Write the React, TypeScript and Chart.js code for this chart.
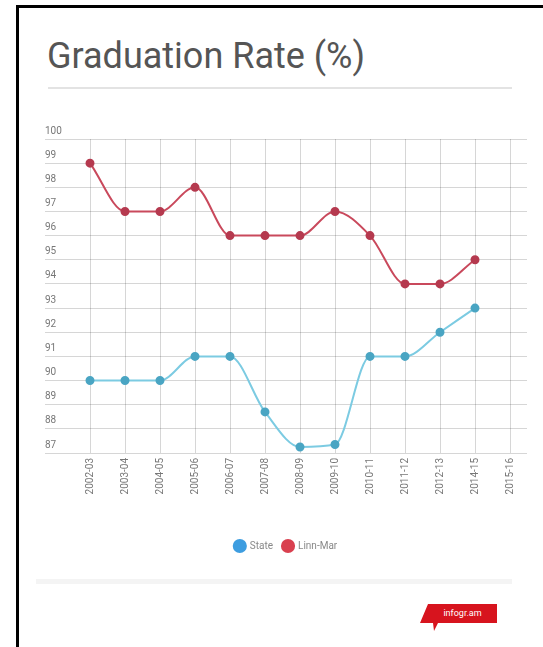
import React, { useEffect, useRef } from "react";
import { Chart, registerables } from "chart.js";

Chart.register(...registerables);

const categories = [
  "2002-03", "2003-04", "2004-05", "2005-06", "2006-07", "2007-08", "2008-09",
  "2009-10", "2010-11", "2011-12", "2012-13", "2014-15", "2015-16",
];
const stateValues = [90, 90, 90, 91, 91, 88.7, 87.25, 87.35, 91, 91, 92, 93];
const linnMarValues = [99, 97, 97, 98, 96, 96, 96, 97, 96, 94, 94, 95];
const seriesNames = ["State", "Linn-Mar"];
const yMin = 87;
const yMax = 100;
const yStep = 1;

const FONT = "Roboto, 'Noto Sans', sans-serif";
const GRID = "rgba(0,0,0,0.16)";

export default function App() {
  const ref = useRef<HTMLCanvasElement | null>(null);

  useEffect(() => {
    if (!ref.current) return;
    const legendColors = ["#3d9de0", "#d9404f"];
    const chart = new Chart(ref.current, {
      type: "line",
      data: {
        labels: categories,
        datasets: [
          {
            label: seriesNames[0],
            data: stateValues,
            borderColor: "#7ccbe2",
            backgroundColor: "#7ccbe2",
            pointBackgroundColor: "#4aa5c3",
            pointBorderColor: "#4aa5c3",
            pointRadius: 3.5,
            borderWidth: 2,
            cubicInterpolationMode: "monotone",
            fill: false,
          },
          {
            label: seriesNames[1],
            data: linnMarValues,
            borderColor: "#c9495c",
            backgroundColor: "#c9495c",
            pointBackgroundColor: "#b53a4f",
            pointBorderColor: "#b53a4f",
            pointRadius: 3.5,
            borderWidth: 2,
            cubicInterpolationMode: "monotone",
            fill: false,
          },
        ],
      },
      options: {
        animation: false,
        responsive: false,
        layout: { padding: { left: 5, right: 16, top: 24, bottom: 4 } },
        plugins: {
          tooltip: { enabled: false },
          legend: {
            position: "bottom",
            labels: {
              usePointStyle: true,
              boxWidth: 12,
              boxHeight: 12,
              padding: 10,
              color: "#888",
              font: { family: FONT, size: 10 },
              generateLabels: (c: any) => {
                const items = Chart.defaults.plugins.legend.labels.generateLabels(c);
                items.forEach((it: any, i: number) => {
                  it.fillStyle = legendColors[i];
                  it.strokeStyle = legendColors[i];
                  it.lineWidth = 0;
                });
                return items;
              },
            },
          },
        },
        scales: {
          x: {
            offset: false,
            grid: { color: GRID, drawTicks: false },
            border: { display: false },
            ticks: {
              autoSkip: false,
              maxRotation: 90,
              minRotation: 90,
              padding: 5,
              color: "#777",
              font: { family: FONT, size: 10 },
            },
            afterFit: (s: any) => {
              s.height = 78;
            },
          },
          y: {
            min: yMin,
            max: yMax,
            ticks: {
              stepSize: yStep,
              crossAlign: "far",
              labelOffset: -8,
              padding: 0,
              color: "#777",
              font: { family: FONT, size: 10 },
            },
            grid: { color: GRID, tickLength: 45 },
            border: { display: false },
            afterFit: (s: any) => {
              s.width = 45;
            },
          },
          y2: {
            position: "right",
            min: yMin,
            max: yMax,
            ticks: { display: false, stepSize: yStep },
            grid: { color: GRID, tickLength: 17, drawOnChartArea: false },
            border: { display: false },
            afterFit: (s: any) => {
              s.width = 17;
            },
          },
        },
      },
    } as any);
    return () => chart.destroy();
  }, []);

  return (
    <div
      style={{
        position: "fixed",
        left: 0,
        top: 0,
        width: 543,
        height: 647,
        overflow: "hidden",
        background: "#fff",
      }}
    >
      <div
        style={{
          position: "absolute",
          left: 16,
          top: 5,
          width: 620,
          height: 720,
          borderLeft: "3px solid #000",
          borderTop: "3px solid #000",
        }}
      />
      <div
        style={{
          position: "absolute",
          left: 47,
          top: 35,
          fontFamily: FONT,
          fontSize: 36,
          lineHeight: "42px",
          color: "#555",
          whiteSpace: "nowrap",
        }}
      >
        Graduation Rate (%)
      </div>
      <div
        style={{
          position: "absolute",
          left: 48,
          top: 87,
          width: 464,
          height: 2,
          background: "#e3e3e3",
        }}
      />
      <canvas
        ref={ref}
        width={503}
        height={450}
        style={{ position: "absolute", left: 40, top: 115, width: 503, height: 450 }}
      />
      <div
        style={{
          position: "absolute",
          left: 36,
          top: 579,
          width: 476,
          height: 5,
          background: "#f4f4f4",
        }}
      />
      <div
        style={{
          position: "absolute",
          left: 420,
          top: 604,
          width: 77,
          height: 27,
          background: "#d7141e",
          clipPath:
            "polygon(8px 0, 77px 0, 77px 19px, 18px 19px, 14px 27px, 13px 19px, 0 19px)",
        }}
      >
        <div
          style={{
            position: "absolute",
            left: 8,
            right: 0,
            top: 0,
            height: 19,
            lineHeight: "19px",
            textAlign: "center",
            color: "#fff",
            fontFamily: FONT,
            fontSize: 9,
          }}
        >
          infogr.am
        </div>
      </div>
    </div>
  );
}
